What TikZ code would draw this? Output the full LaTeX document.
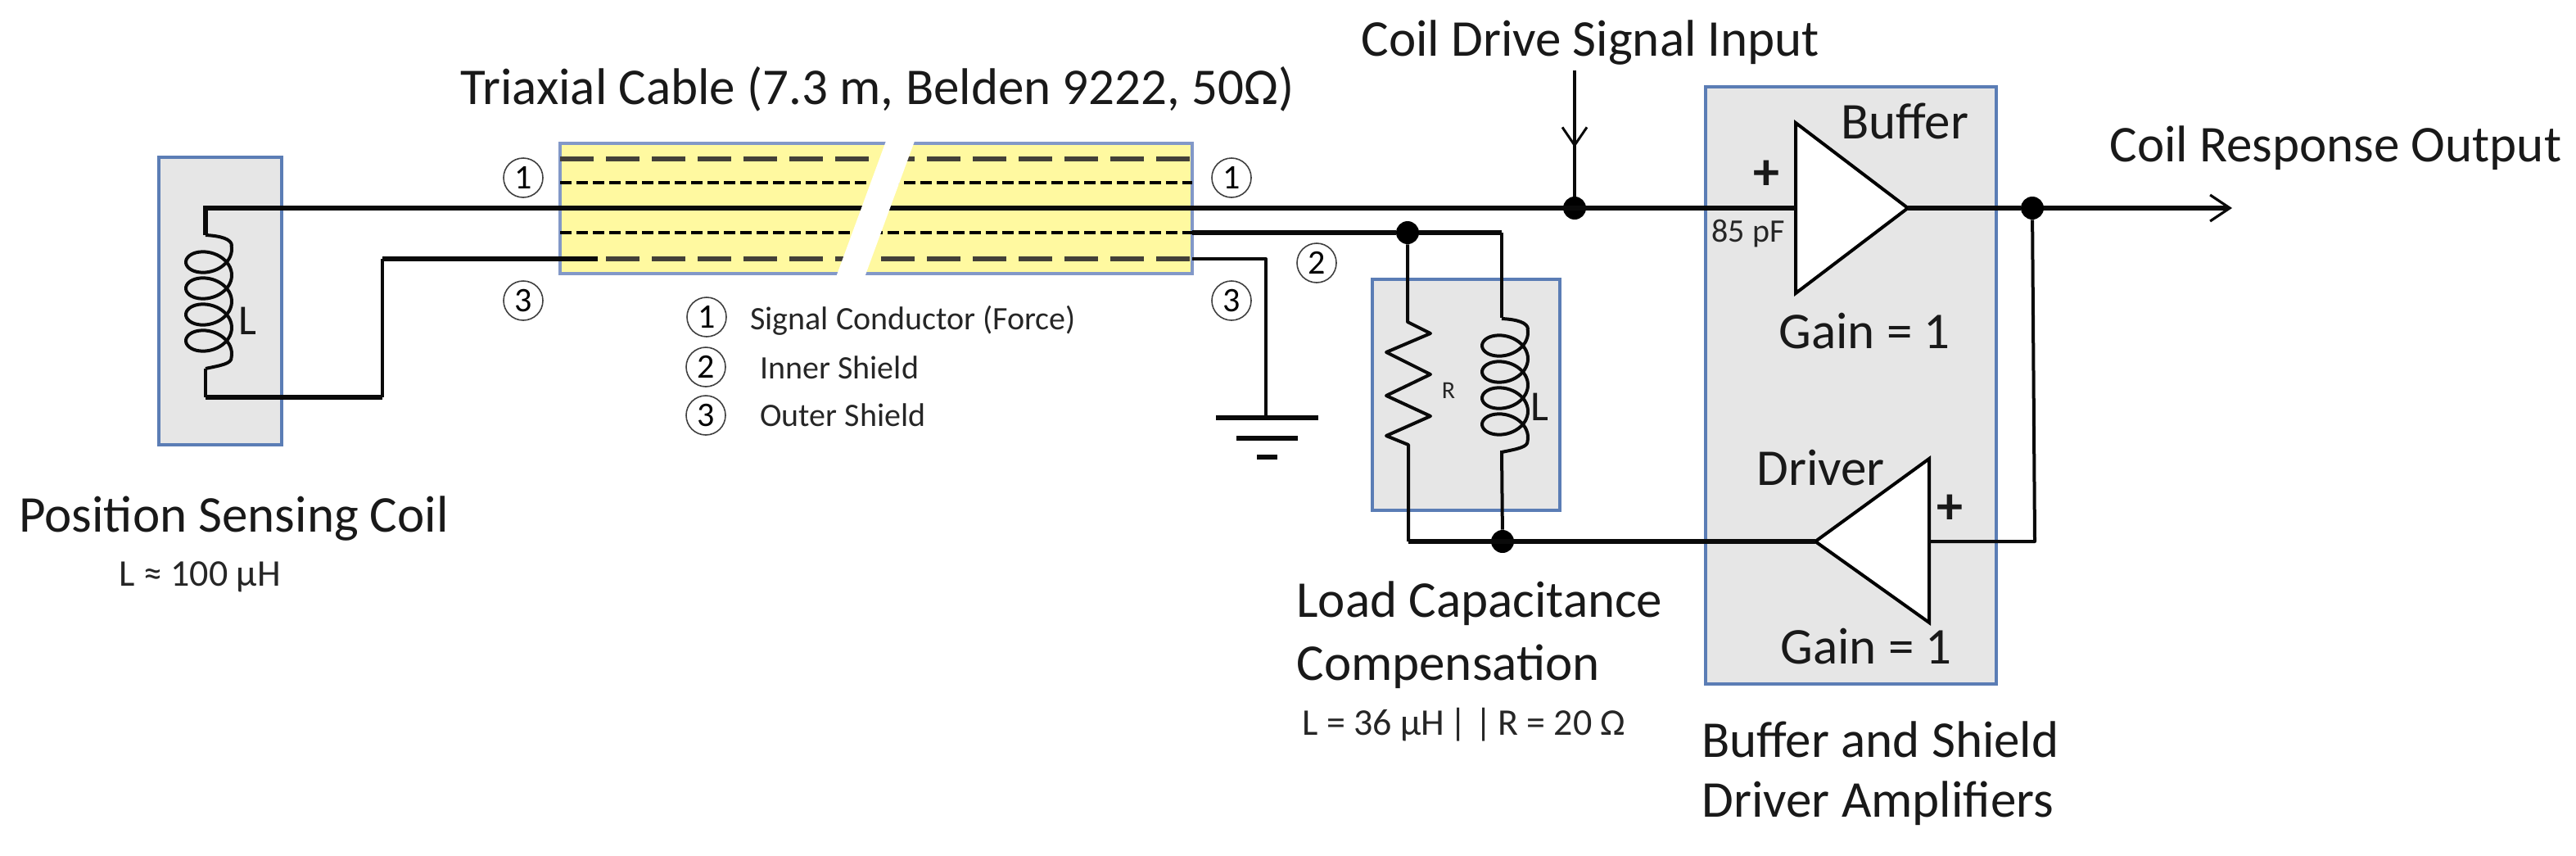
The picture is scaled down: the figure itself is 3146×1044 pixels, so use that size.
\documentclass[tikz,border=0pt]{standalone}
\usepackage{fontspec}
\usetikzlibrary{arrows.meta}
\setmainfont{Carlito}
\definecolor{boxfill}{HTML}{E6E6E6}
\definecolor{boxline}{HTML}{5B7DB5}
\definecolor{cablefill}{HTML}{FFF9A0}
\definecolor{cableline}{HTML}{8298C8}
\definecolor{wirecol}{HTML}{0A0A0A}
\tikzset{
  x=0.5pt,y=-0.5pt,
  panel/.style={draw=boxline,fill=boxfill,line width=1.6pt},
  wire/.style={draw=wirecol,line width=2.8pt,line join=miter},
  thinwire/.style={draw=wirecol,line width=2pt,line join=round},
  longdash/.style={draw=black!85!yellow,line width=3pt,dash pattern=on 20.5pt off 7.5pt},
  shortdash/.style={draw=black,line width=2.4pt,dash pattern=on 7pt off 3pt},
  dot/.style={circle,fill=black,inner sep=0pt,minimum size=14pt},
  amp/.style={draw=black,fill=white,line width=2pt,line join=miter},
  big/.style={font=\fontsize{31.5}{31.5}\selectfont,inner sep=0pt,text=black!90},
  mid/.style={font=\fontsize{23}{23}\selectfont,inner sep=0pt,text=black!85},
  legend/.style={font=\fontsize{20}{20}\selectfont,inner sep=0pt,text=black!85},
  small/.style={font=\fontsize{20}{20}\selectfont,inner sep=0pt,text=black!85},
  num/.style={circle,draw=black!75,line width=0.8pt,inner sep=0pt,minimum size=24pt,font=\fontsize{21}{21}\selectfont},
}
\newcommand{\coilshape}[2]{%
  \draw[thinwire] (#1-4,#2-17) .. controls (#1+15,#2-16) and (#1+28,#2-12) .. (#1+28,#2-4)
    -- plot[domain=-10:1450,samples=190,variable=\t]
    ({#1+28*cos(\t)},{#2+(\t/360)*32+20*sin(\t)})
    .. controls (#1+28,#2+140) and (#1+15,#2+142) .. (#1-4,#2+146);}
\begin{document}
\begin{tikzpicture}
\useasboundingbox (0,0) rectangle (3146,1044);
% panels
\path[panel] (194,192) rectangle (344,543);
\path[panel] (1676,341) rectangle (1905,623);
\path[panel] (2083,106) rectangle (2438,835);
% cable
\path[fill=cablefill,draw=cableline,line width=2pt] (684,175) rectangle (1456,334);
\path[longdash] (684,194) -- (1456,194);
\path[shortdash] (684,223) -- (1456,223);
\path[shortdash] (684,284) -- (1456,284);
\path[longdash] (684,316) -- (1456,316);
% named points
\coordinate (coilAtop) at (251,254);
\coordinate (coilAin) at (251,287);
\coordinate (coilAout) at (251,450);
\coordinate (coilAbot) at (251,485);
\coordinate (bend) at (467,485);
\coordinate (bend2) at (467,316);
\coordinate (cableOuterL) at (684,316);
\coordinate (cableOuterR) at (1456,316);
\coordinate (cableInnerR) at (1456,284);
\coordinate (gnd) at (1546,510);
\coordinate (sigin) at (1923,86);
\coordinate (out) at (2726,254);
\node[dot] (j1) at (1923,254) {};
\node[dot] (j2) at (1719,284) {};
\node[dot] (j3) at (2482,254) {};
\node[dot] (j4) at (1835,661) {};
% amplifiers
\draw[amp] (2193,150) coordinate (bt) -- (2330,254) coordinate (btip) -- (2193,358) coordinate (bb) -- cycle;
\draw[amp] (2356,560) coordinate (dt) -- (2217,661) coordinate (dtip) -- (2356,760) coordinate (db) -- cycle;
\coordinate (bin) at (2193,254);
\coordinate (dinp) at (2356,661);
% wires
\draw[wire] (coilAin) -- (coilAtop) -- (bin);
\draw[wire] (btip) -- (j3);
\draw[wire,-{Straight Barb[length=12pt,width=16pt,line width=1.6pt]}] (j3) -- (out);
\draw[thinwire,-{Straight Barb[length=11pt,width=15pt,line width=1.5pt]}] (sigin) -- (1923,180);
\draw[thinwire] (1923,175) -- (j1);
\draw[thinwire] (coilAout) -- (coilAbot);
\draw[wire,line width=3.4pt] (coilAbot) -- (bend);
\draw[thinwire] (bend) -- (bend2);
\draw[wire] (bend2) -- (cableOuterL) -- (730,316);
\draw[wire] (cableInnerR) -- (j2) -- (1834,284);
\draw[thinwire] (1834,284) -- (1834,388);
\draw[thinwire] (j2) -- (1719,393) -- (1747,407) -- (1693,430) -- (1747,457) -- (1693,483) -- (1747,508) -- (1693,532) -- (1720,543) -- (1720,661);
\draw[wire] (1720,661) -- (dtip);
\draw[thinwire] (1834,550) -- (j4);
\draw[thinwire] (j3) -- (2485,661) -- (dinp);
\draw[thinwire] (cableOuterR) -- (1546,316) -- (gnd);
\draw[wire] (1485,510) -- (1610,510);
\draw[wire] (1510,535) -- (1585,535);
\draw[wire] (1535,558) -- (1560,558);
% coils
\coilshape{255}{304}
\coilshape{1838}{406}
% cable slash
\path[fill=white] (1092,145) -- (1127,145) -- (1048,360) -- (1013,360) -- cycle;
% text
\node[big,anchor=base west] (t1) at (562,127) {Triaxial Cable (7.3 m, Belden 9222, 50Ω)};
\node[big,anchor=base west] (t2) at (1662,68) {Coil Drive Signal Input};
\node[big,anchor=base west] (t3) at (2576,197) {Coil Response Output};
\node[big,anchor=base west] (t4) at (23,649) {Position Sensing Coil};
\node[mid,anchor=base west] (t5) at (145,715) {L ≈ 100 µH};
\node[big,anchor=base west] (t6) at (1583,753) {Load Capacitance};
\node[big,anchor=base west] (t7) at (1583,830) {Compensation};
\node[mid,anchor=base west] (t8) at (1590,897) {L = 36 µH\hspace{3pt}| |\hspace{3pt}R = 20 Ω};
\node[big,anchor=base west] (t9) at (2078,924) {Buffer and Shield};
\node[big,anchor=base west] (t10) at (2078,997) {Driver Amplifiers};
\node[big,anchor=base west] (t11) at (2248,169) {Buffer};
\node[big,anchor=base west] (t12) at (2172,425) {Gain = 1};
\node[big,anchor=base west] (t13) at (2145,592) {Driver};
\node[big,anchor=base west] (t14) at (2174,810) {Gain = 1};
\node[big,font=\fontsize{32}{32}\bfseries\selectfont] (p1) at (2157,214) {+};
\node[big,font=\fontsize{32}{32}\bfseries\selectfont] (p2) at (2381,622) {+};
\node[small] (t15) at (2135,285) {85 pF};
\node[small,font=\fontsize{15}{15}\selectfont] (t16) at (1769,477) {R};
\node[big,font=\fontsize{26}{26}\selectfont] (t17) at (302,392) {L};
\node[big,font=\fontsize{26}{26}\selectfont] (t18) at (1880,497) {L};
\node[legend,anchor=base west] (t19) at (916,402) {Signal Conductor (Force)};
\node[legend,anchor=base west] (t20) at (928,462) {Inner Shield};
\node[legend,anchor=base west] (t21) at (928,520) {Outer Shield};
\node[num] (n1) at (639,217) {1};
\node[num] (n2) at (639,367) {3};
\node[num] (n3) at (1504,217) {1};
\node[num] (n4) at (1608,321) {2};
\node[num] (n5) at (1504,367) {3};
\node[num] (n6) at (863,387) {1};
\node[num] (n7) at (862,448) {2};
\node[num] (n8) at (862,507) {3};
\end{tikzpicture}
\end{document}
